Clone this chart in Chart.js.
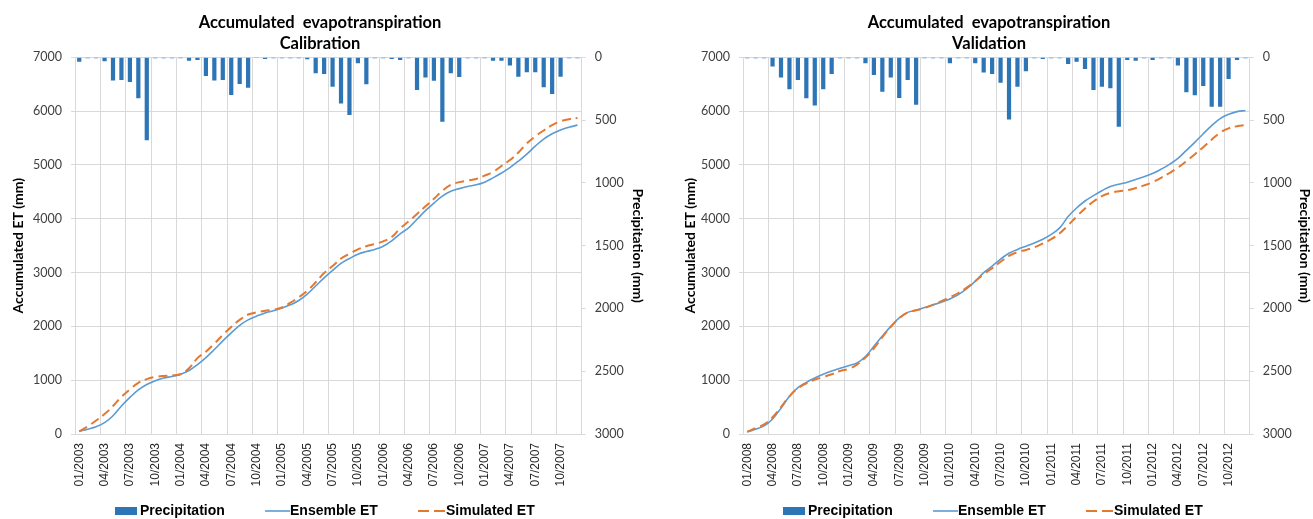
<!DOCTYPE html>
<html>
<head>
<meta charset="utf-8">
<script src="https://cdn.jsdelivr.net/npm/chart.js@4.4.1/dist/chart.umd.min.js"></script>
<style>
  html, body { margin: 0; padding: 0; background: #fff; }
  #wrap { position: relative; width: 1313px; height: 519px; overflow: hidden; }
  canvas { position: absolute; top: 0; }
</style>
</head>
<body>
<div id="wrap">
  <canvas id="calibration" width="668" height="519" style="left:0"></canvas>
  <canvas id="validation" width="645" height="519" style="left:668px"></canvas>
</div>
<script>
// ---- Calibration period, monthly 01/2003 - 12/2007 ----
const calStartYear = 2003;
const calPrecip = [
  35, 8, 8, 32, 184, 181, 197, 327, 660, 8, 8, 8,
  8, 27, 21, 149, 184, 181, 300, 213, 242, 5, 13, 8,
  8, 8, 8, 16, 128, 133, 234, 367, 460, 48, 215, 8,
  8, 13, 21, 8, 261, 160, 186, 513, 128, 157, 8, 8,
  8, 27, 27, 66, 154, 120, 120, 239, 293, 154, 8, 8
];
const calEnsembleET = [
  50, 90, 135, 210, 340, 520, 680, 820, 920, 990, 1040, 1070,
  1110, 1180, 1290, 1420, 1570, 1730, 1880, 2020, 2120, 2190, 2250, 2290,
  2340, 2400, 2480, 2600, 2750, 2900, 3040, 3170, 3260, 3340, 3390, 3430,
  3490, 3590, 3720, 3830, 3990, 4150, 4290, 4420, 4510, 4560, 4600, 4630,
  4680, 4760, 4850, 4950, 5070, 5200, 5350, 5480, 5580, 5650, 5700, 5740
];
const calSimulatedET = [
  50, 140, 250, 370, 520, 690, 830, 950, 1020, 1060, 1080, 1090,
  1110, 1220, 1410, 1530, 1680, 1840, 1990, 2120, 2220, 2260, 2290, 2310,
  2350, 2440, 2540, 2660, 2820, 2990, 3120, 3260, 3350, 3430, 3490, 3530,
  3580, 3660, 3820, 3950, 4090, 4230, 4370, 4520, 4630, 4680, 4710, 4740,
  4800, 4870, 4980, 5090, 5230, 5400, 5530, 5640, 5740, 5810, 5850, 5870
];

// ---- Validation period, monthly 01/2008 - 12/2012 ----
const valStartYear = 2008;
const valPrecip = [
  8, 8, 8, 74, 160, 255, 181, 327, 383, 255, 133, 8,
  8, 8, 48, 141, 274, 160, 324, 181, 378, 8, 8, 8,
  48, 8, 8, 48, 122, 133, 202, 495, 234, 112, 8, 13,
  8, 8, 53, 35, 93, 261, 234, 247, 553, 21, 27, 8,
  21, 8, 8, 66, 279, 303, 229, 394, 394, 173, 21, 8
];
const valEnsembleET = [
  40, 90, 150, 280, 480, 700, 860, 960, 1040, 1110, 1170, 1220,
  1270, 1320, 1440, 1630, 1820, 2000, 2160, 2260, 2300, 2350, 2400, 2450,
  2510, 2590, 2700, 2840, 3000, 3120, 3250, 3360, 3430, 3490, 3550, 3620,
  3710, 3830, 4040, 4200, 4330, 4430, 4520, 4600, 4640, 4680, 4730, 4780,
  4840, 4920, 5010, 5120, 5270, 5420, 5580, 5730, 5860, 5940, 5990, 6010
];
const valSimulatedET = [
  40, 110, 180, 310, 500, 700, 850, 940, 1010, 1060, 1110, 1170,
  1210, 1290, 1420, 1590, 1800, 1990, 2150, 2260, 2300, 2340, 2400, 2470,
  2540, 2620, 2720, 2840, 2970, 3080, 3200, 3310, 3380, 3420, 3470, 3540,
  3620, 3730, 3880, 4040, 4190, 4320, 4420, 4480, 4510, 4530, 4570, 4620,
  4680, 4760, 4850, 4950, 5070, 5200, 5330, 5470, 5600, 5680, 5720, 5740
];

// Axis ranges and tick steps
const etAxis = { min: 0, max: 7000, step: 1000 };
const precipAxis = { min: 0, max: 3000, step: 500 };
const labelEvery = 3;   // one tick label / grid line per quarter

const seriesNames = ['Precipitation', 'Ensemble ET', 'Simulated ET'];
const COLORS = { precip: '#2E75B6', ensemble: '#5B9BD5', simulated: '#E4782F', grid: '#D9D9D9' };

function monthLabels(startYear, count) {
  const out = [];
  for (let i = 0; i < count; i++) {
    const m = (i % 12) + 1, y = startYear + Math.floor(i / 12);
    out.push((m < 10 ? '0' + m : '' + m) + '/' + y);
  }
  return out;
}

// Title lines and legend drawn onto the canvas after the chart
const headerAndKey = {
  id: 'headerAndKey',
  afterDraw(chart, args, o) {
    const ctx = chart.ctx;
    ctx.save();
    ctx.fillStyle = '#000';
    ctx.textAlign = 'center';
    ctx.textBaseline = 'middle';
    ctx.font = 'bold 16.5px Lato';
    ctx.fillText(o.title[0], o.titleX, 23);
    ctx.fillText(o.title[1], o.titleX, 44);

    const ky = 511;
    ctx.textAlign = 'left';
    ctx.font = 'bold 14px "Liberation Sans", Arial, sans-serif';
    // Precipitation swatch
    ctx.fillStyle = COLORS.precip;
    ctx.fillRect(115, ky - 4, 22, 8);
    ctx.fillStyle = '#000';
    ctx.fillText(seriesNames[0], 140, ky);
    // Ensemble ET line
    ctx.strokeStyle = COLORS.ensemble;
    ctx.lineWidth = 1.6;
    ctx.beginPath(); ctx.moveTo(265, ky); ctx.lineTo(290, ky); ctx.stroke();
    ctx.fillText(seriesNames[1], 290, ky);
    // Simulated ET dashed line
    ctx.strokeStyle = COLORS.simulated;
    ctx.lineWidth = 2;
    ctx.setLineDash([11, 5]);
    ctx.beginPath(); ctx.moveTo(418, ky); ctx.lineTo(445, ky); ctx.stroke();
    ctx.setLineDash([]);
    ctx.fillText(seriesNames[2], 446, ky);
    ctx.restore();
  }
};

const plainNumber = v => String(v);

function buildChart(id, startYear, precip, ensemble, simulated, cfg) {
  const labels = monthLabels(startYear, precip.length);
  return new Chart(document.getElementById(id), {
    data: {
      labels,
      datasets: [
        {
          type: 'line', label: seriesNames[2], data: simulated, yAxisID: 'y', order: 1,
          borderColor: COLORS.simulated, borderWidth: 2, borderDash: [9, 5],
          pointRadius: 0, tension: 0.4, fill: false
        },
        {
          type: 'line', label: seriesNames[1], data: ensemble, yAxisID: 'y', order: 2,
          borderColor: COLORS.ensemble, borderWidth: 1.6,
          pointRadius: 0, tension: 0.4, fill: false
        },
        {
          type: 'bar', label: seriesNames[0], data: precip, yAxisID: 'y2', order: 3,
          backgroundColor: COLORS.precip, barPercentage: 0.5, categoryPercentage: 1
        }
      ]
    },
    options: {
      responsive: false,
      animation: false,
      devicePixelRatio: 1,
      layout: { padding: { top: 57.3, bottom: 0, left: 0, right: 0 } },
      plugins: {
        legend: { display: false },
        title: { display: false },
        tooltip: { enabled: false },
        headerAndKey: { title: cfg.title, titleX: cfg.titleX }
      },
      scales: {
        x: {
          type: 'category',
          offset: true,
          afterFit: s => { s.height = 85; },
          grid: {
            offset: true,
            drawTicks: false,
            color: c => (c.index === undefined || c.index % labelEvery === 0) ? COLORS.grid : 'rgba(0,0,0,0)'
          },
          border: { color: COLORS.grid },
          ticks: {
            autoSkip: false, minRotation: 90, maxRotation: 90, padding: 9,
            color: '#262626',
            font: { family: '"Liberation Sans", Arial, sans-serif', size: 12 },
            callback: (v, i) => (i % labelEvery === 0 ? labels[i] : '')
          }
        },
        y: {
          position: 'left',
          min: etAxis.min, max: etAxis.max,
          afterFit: s => { s.width = 75; },
          grid: { color: COLORS.grid, tickLength: 4 },
          border: { color: COLORS.grid },
          ticks: {
            stepSize: etAxis.step, padding: 9, color: '#404040',
            font: { family: 'Lato', size: 12.5 }, callback: plainNumber
          },
          title: {
            display: true, text: 'Accumulated ET (mm)', color: '#000',
            font: { family: 'Lato', size: 14, weight: 'bold' },
            padding: { top: cfg.leftTitlePad, bottom: 0 }
          }
        },
        y2: {
          position: 'right',
          reverse: true,
          min: precipAxis.min, max: precipAxis.max,
          afterFit: s => { s.width = cfg.rightWidth; },
          grid: { drawOnChartArea: false, color: COLORS.grid, tickLength: 4 },
          border: { color: COLORS.grid },
          ticks: {
            stepSize: precipAxis.step, padding: 9, color: '#404040',
            font: { family: 'Lato', size: 12.5 }, callback: plainNumber
          },
          title: {
            display: true, text: 'Precipitation (mm)', color: '#000',
            font: { family: 'Lato', size: 14, weight: 'bold' },
            padding: { top: cfg.rightTitlePad, bottom: 0 }
          }
        }
      }
    },
    plugins: [headerAndKey]
  });
}

buildChart('calibration', calStartYear, calPrecip, calEnsembleET, calSimulatedET, {
  title: ['Accumulated  evapotranspiration', 'Calibration'],
  titleX: 320, rightWidth: 86.3, leftTitlePad: 10, rightTitlePad: 22
});
buildChart('validation', valStartYear, valPrecip, valEnsembleET, valSimulatedET, {
  title: ['Accumulated  evapotranspiration', 'Validation'],
  titleX: 321, rightWidth: 63.3, leftTitlePad: 14.5, rightTitlePad: 0
});
</script>
</body>
</html>
